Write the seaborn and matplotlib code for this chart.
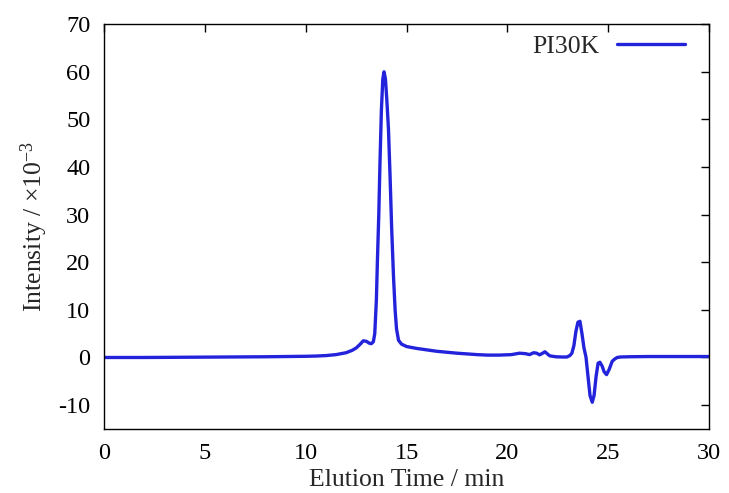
import numpy as np
import pandas as pd
import matplotlib
matplotlib.use("Agg")
import matplotlib.pyplot as plt
import seaborn as sns

time_min = [0.0, 2.0, 4.0, 6.0, 8.0, 9.0, 10.0, 10.5, 11.0, 11.5, 12.0, 12.3, 12.5, 12.7,
            12.85, 13.0, 13.15, 13.25, 13.35, 13.42, 13.5, 13.55, 13.62, 13.68, 13.75,
            13.82, 13.88, 13.95, 14.02, 14.1, 14.18, 14.26, 14.35, 14.43, 14.5, 14.6,
            14.75, 15.0, 15.5, 16.0, 16.5, 17.0, 17.5, 18.0, 18.5, 19.0, 19.6, 20.2,
            20.6, 20.9, 21.1, 21.3, 21.45, 21.6, 21.75, 21.86, 22.0, 22.1, 22.4, 22.7,
            22.95, 23.1, 23.2, 23.3, 23.4, 23.5, 23.6, 23.7, 23.8, 23.9, 24.0, 24.1,
            24.21, 24.3, 24.4, 24.5, 24.59, 24.7, 24.8, 24.92, 25.05, 25.2, 25.33,
            25.45, 25.6, 26.0, 27.0, 28.0, 29.0, 30.0]
intensity = [0.0, 0.0, 0.05, 0.1, 0.15, 0.2, 0.25, 0.3, 0.4, 0.6, 1.0, 1.5, 2.0, 2.8,
             3.5, 3.4, 3.0, 2.9, 3.3, 5.0, 12.0, 20.0, 30.0, 41.0, 52.0,
             58.5, 60.0, 58.5, 54.0, 48.0, 38.0, 27.0, 17.0, 10.0, 6.0, 3.6,
             2.8, 2.3, 1.9, 1.6, 1.3, 1.1, 0.9, 0.75, 0.6, 0.5, 0.5, 0.6,
             0.9, 0.8, 0.6, 1.0, 0.9, 0.56, 0.9, 1.2, 0.7, 0.35, 0.15, 0.1,
             0.1, 0.4, 0.9, 2.5, 5.5, 7.4, 7.6, 5.0, 2.0, 0.07, -4.0, -8.0,
             -9.4, -8.0, -4.0, -1.2, -1.0, -1.8, -3.0, -3.6, -2.5, -0.8, -0.3,
             0.0, 0.1, 0.15, 0.2, 0.2, 0.2, 0.2]
series_name = "PI30K"

df = pd.DataFrame({"t": time_min, "y": intensity, "s": series_name})

sns.set_style("white")
plt.rcParams["font.family"] = "serif"
plt.rcParams["font.serif"] = ["Liberation Serif", "DejaVu Serif"]
plt.rcParams["mathtext.fontset"] = "custom"
plt.rcParams["mathtext.rm"] = "Liberation Serif"
plt.rcParams["mathtext.it"] = "Liberation Serif:italic"
plt.rcParams["axes.unicode_minus"] = False

fig, ax = plt.subplots(figsize=(7.29, 4.93), dpi=100)
fig.subplots_adjust(left=0.143, right=0.9725, top=0.951, bottom=0.13)

sns.lineplot(data=df, x="t", y="y", hue="s", palette=["#2323dc"], linewidth=2.4,
             ax=ax, sort=False)

ax.set_xlim(0, 30)
ax.set_ylim(-15, 70)
ax.set_xticks([0, 5, 10, 15, 20, 25, 30])
ax.set_yticks([-10, 0, 10, 20, 30, 40, 50, 60, 70])
ax.tick_params(direction="in", length=6, width=1, top=True, right=True,
               labelsize=17.5, colors="black", pad=10)
for sp in ax.spines.values():
    sp.set_color("black")
    sp.set_linewidth(1.0)
ax.set_xlabel("Elution Time / min", fontsize=18.5, labelpad=4)
ax.set_ylabel("Intensity / ×10$^{-3}$", fontsize=18.5, labelpad=6)

leg = ax.legend(loc="upper right", frameon=False, fontsize=18.5, markerfirst=False,
                handlelength=2.65, borderaxespad=0.1, handletextpad=0.65,
                bbox_to_anchor=(0.981, 1.005))

fig.savefig("out.png", dpi=100)
